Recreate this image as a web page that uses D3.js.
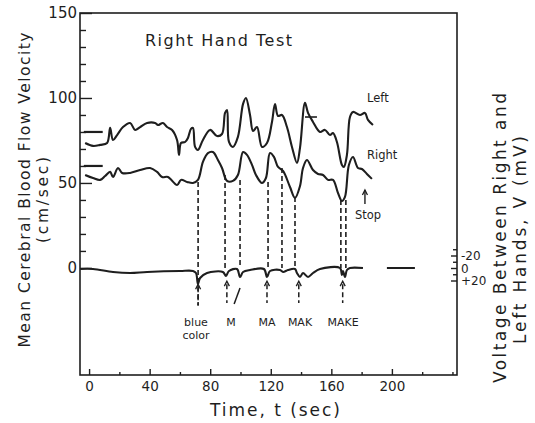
<!DOCTYPE html>
<html><head><meta charset="utf-8">
<script src="https://cdn.jsdelivr.net/npm/d3@7"></script>
<style>
body{margin:0;background:#fff}
svg{display:block}
text{font-family:"DejaVu Sans",sans-serif;fill:#1e1e1e}
</style>
</head><body><svg id="c" width="535" height="423"></svg>
<script>
// ---- data (time in sec, velocity in cm/sec, voltage in mV) ----
const leftTime=[-2.6,2.6,7.3,11.9,13.9,15.8,18.5,22.4,27.1,30.4,33.7,38.3,43.6,45.5,48.8,51.5,54.8,58.1,59.4,60.7,63.4,65.3,67.3,68.6,70.0,71.9,75.2,79.9,84.5,87.8,89.8,91.1,92.4,95.0,98.3,101.7,103.6,106.3,108.3,110.9,114.2,117.5,120.8,122.8,124.8,127.4,130.7,134.0,137.3,139.3,142.6,144.6,147.9,152.5,155.8,159.1,161.1,163.7,167.0,168.3,170.3,172.3,174.3,178.9,182.2,184.2,187.5];
const leftVel=[73.5,71.8,72.4,73.5,82.4,75.3,78.2,82.9,85.3,81.2,82.9,85.3,85.3,84.1,85.3,82.9,81.2,75.3,66.5,73.5,74.1,76.5,81.8,82.4,71.2,69.4,75.3,81.2,77.6,78.8,91.2,92.9,74.1,71.2,77.1,96.5,100,90,80.6,82.9,71.2,73.5,85.9,96.5,89.4,90,82.9,71.2,61.8,70.6,97.1,91.2,85.9,80,81.2,78.2,79.4,74.1,60.6,59.4,66.5,88.8,91.8,90,91.2,87.1,84.1];
const rightTime=[-2.6,2.6,7.3,10.6,13.9,15.8,19.1,21.8,27.1,33.7,40.3,44.9,48.2,52.1,58.1,60.7,64.7,68.6,71.9,75.2,78.5,81.8,85.1,87.8,91.1,95.0,98.3,101.7,104.3,107.6,110.2,114.2,116.8,119.5,122.1,124.8,128.1,132.7,136.0,139.3,141.3,143.9,147.9,151.2,154.5,157.8,161.1,164.4,167.0,169.0,171.6,174.3,177.6,180.2,183.5,186.8];
const rightVel=[54.7,52.9,51.8,54.1,56.5,53.5,58.8,55.9,55.9,57.6,58.8,56.5,53.5,53.5,48.8,51.8,50.6,50,51.8,62.4,67.6,68.2,63.5,58.8,51.2,51.2,54.7,68.2,66.5,60.6,54.7,50,52.9,67.6,65.3,59.4,57.1,47.6,41.2,48.2,58.8,63.5,57.6,55.3,54.7,51.8,51.8,44.1,39.4,41.8,60.6,65.3,58.8,58.2,55.3,52.4];
const voltTime=[-5.9,2.6,15.8,27.1,38.3,60.1,68.6,70.6,71.9,73.3,77.9,88.4,90.4,92.4,97.7,99.7,101.7,106.3,115.5,117.5,119.5,126.1,128.1,131.4,136.0,137.3,139.3,141.3,144.6,147.9,152.5,165.7,167.0,167.7,169.0,170.3,172.3,180.9];
const voltMv=[1.6,1.6,6.4,8,6.4,4.8,4.8,8,25.6,16,8,6.4,12.8,4.8,1.6,14.4,6.4,3.2,1.6,14.4,4.8,3.2,6.4,3.2,1.6,8,14.4,8,14.4,8,1.6,0,11.2,4.8,14.4,3.2,0,0];
const voltTail=[196.7,215.2];
const baselineMarks=[80,60];
const dashTime=[72,89.8,99.7,118.2,127.4,136,166.3,169.6];
const dashTopVel=[50.6,54.7,51.8,50.6,58.8,41.8,40,40];
const eventTime=[72,91,117.5,138.5,167.5];
const eventLabels=[["blue","color"],["M"],["MA"],["MAK"],["MAKE"]];
const xTicks=[0,40,80,120,160,200];
const xMinor=[20,60,100,140,180,220,240];
const yTicks=[0,50,100,150];
const yMinor=[10,20,30,40,60,70,80,90,110,120,130,140];
const vTicks=[-20,0,20];
const vTickLabels=["-20","0","+20"];
const vMinor=[-30,-10,10];

// ---- scales ----
const svg=d3.select("#c");
const x=d3.scaleLinear().domain([-6,243]).range([80,457]);
const y=d3.scaleLinear().domain([-63,150]).range([375,13]);
const vy=d3.scaleLinear().domain([-20,20]).range([255.5,280.5]);
const ink="#1e1e1e";

// frame
svg.append("rect").attr("x",x(-6)).attr("y",y(150)).attr("width",x(243)-x(-6)).attr("height",y(-63)-y(150))
  .attr("fill","none").attr("stroke",ink).attr("stroke-width",1.6);

// bottom axis
const gx=svg.append("g").attr("transform",`translate(0,${y(-63)})`);
gx.call(d3.axisBottom(x).tickValues(xTicks).tickSizeInner(-6).tickSizeOuter(0).tickPadding(6));
const gx2=svg.append("g").attr("transform",`translate(0,${y(-63)})`);
gx2.call(d3.axisBottom(x).tickValues(xMinor).tickSizeInner(-3).tickSizeOuter(0).tickFormat(""));
// left axis
const gy=svg.append("g").attr("transform",`translate(${x(-6)},0)`);
gy.call(d3.axisLeft(y).tickValues(yTicks).tickSizeInner(-12).tickSizeOuter(0).tickPadding(3));
const gy2=svg.append("g").attr("transform",`translate(${x(-6)},0)`);
gy2.call(d3.axisLeft(y).tickValues(yMinor).tickSizeInner(-6).tickSizeOuter(0).tickFormat(""));
// right voltage axis
const gv=svg.append("g").attr("transform",`translate(${x(243)},0)`);
gv.call(d3.axisRight(vy).tickValues(vTicks).tickSizeInner(-6).tickSizeOuter(0).tickPadding(4).tickFormat((d,i)=>vTickLabels[i]));
const gv2=svg.append("g").attr("transform",`translate(${x(243)},0)`);
gv2.call(d3.axisRight(vy).tickValues(vMinor).tickSizeInner(-4).tickSizeOuter(0).tickFormat(""));
svg.selectAll(".domain").remove();
svg.selectAll(".tick line").attr("stroke",ink).attr("stroke-width",1.4);
gx.selectAll("text").attr("font-size",13.5).attr("fill",ink);
gy.selectAll("text").attr("font-size",15).attr("fill",ink);
gv.selectAll("text").attr("font-size",12).attr("fill",ink).attr("dy","0.35em");

// baseline calibration marks
svg.selectAll(".bm").data(baselineMarks).enter().append("line")
  .attr("x1",x(-3.5)).attr("x2",x(9)).attr("y1",d=>y(d)).attr("y2",d=>y(d))
  .attr("stroke",ink).attr("stroke-width",2.2);

// traces
const line=d3.line().curve(d3.curveCatmullRom.alpha(0.5));
svg.append("path").attr("d",line(leftTime.map((t,i)=>[x(t),y(leftVel[i])])))
  .attr("fill","none").attr("stroke",ink).attr("stroke-width",2.1);
svg.append("path").attr("d",line(rightTime.map((t,i)=>[x(t),y(rightVel[i])])))
  .attr("fill","none").attr("stroke",ink).attr("stroke-width",2.1);
svg.append("path").attr("d",line(voltTime.map((t,i)=>[x(t),vy(voltMv[i])])))
  .attr("fill","none").attr("stroke",ink).attr("stroke-width",2.1);
svg.append("line").attr("x1",x(voltTail[0])).attr("x2",x(voltTail[1])).attr("y1",vy(0)).attr("y2",vy(0))
  .attr("stroke",ink).attr("stroke-width",2);
// small mark on left peak
svg.append("line").attr("x1",x(142.6)).attr("x2",x(150.5)).attr("y1",y(88.8)).attr("y2",y(88.8))
  .attr("stroke",ink).attr("stroke-width",1.6);

// dashed event lines
svg.selectAll(".dl").data(dashTime).enter().append("line")
  .attr("x1",d=>x(d)).attr("x2",d=>x(d))
  .attr("y1",(d,i)=>y(dashTopVel[i])).attr("y2",(d,i)=>i===0?vy(60):vy(0))
  .attr("stroke",ink).attr("stroke-width",1.6).attr("stroke-dasharray","5,3");

// event arrows
eventTime.forEach((t,i)=>{
  const top=i===0?vy(26):vy(21), bot=i===0?vy(60):vy(56);
  svg.append("line").attr("x1",x(t)).attr("x2",x(t)).attr("y1",top+3).attr("y2",bot)
    .attr("stroke",ink).attr("stroke-width",1.5).attr("stroke-dasharray","5,3");
  svg.append("path").attr("d",`M${x(t)-2.5},${top+5}L${x(t)},${top}L${x(t)+2.5},${top+5}`)
    .attr("fill","none").attr("stroke",ink).attr("stroke-width",1.3);
  const cx=[196,231,267,300,343][i];
  eventLabels[i].forEach((s,j)=>{
    svg.append("text").attr("x",cx).attr("y",vy(20)+45+j*13).attr("text-anchor","middle")
      .attr("font-size",11).text(s);
  });
});
// slash near M
svg.append("line").attr("x1",x(95.8)).attr("y1",vy(57.6)).attr("x2",x(99.7)).attr("y2",vy(32))
  .attr("stroke",ink).attr("stroke-width",1.5);

// stop arrow
svg.append("line").attr("x1",x(182.2)).attr("x2",x(182.2)).attr("y1",y(45.9)).attr("y2",y(37.6))
  .attr("stroke",ink).attr("stroke-width",1.4);
svg.append("path").attr("d",`M${x(182.2)-2.5},${y(45.9)+5}L${x(182.2)},${y(45.9)}L${x(182.2)+2.5},${y(45.9)+5}`)
  .attr("fill","none").attr("stroke",ink).attr("stroke-width",1.3);

// text labels
svg.append("text").attr("x",218.5).attr("y",46).attr("text-anchor","middle").attr("font-size",16)
  .attr("textLength",147).text("Right Hand Test");
svg.append("text").attr("x",367).attr("y",102).attr("font-size",11.5).text("Left");
svg.append("text").attr("x",367).attr("y",159).attr("font-size",11.5).text("Right");
svg.append("text").attr("x",355).attr("y",219).attr("font-size",11.5).text("Stop");
svg.append("text").attr("x",275).attr("y",416).attr("text-anchor","middle").attr("font-size",17)
  .attr("textLength",130).text("Time, t (sec)");

// y axis titles
svg.append("text").attr("transform","translate(25,190) rotate(-90)").attr("text-anchor","middle")
  .attr("dominant-baseline","central").attr("font-size",15.5).attr("textLength",315).text("Mean Cerebral Blood Flow Velocity");
svg.append("text").attr("transform","translate(43,200) rotate(-90)").attr("text-anchor","middle")
  .attr("dominant-baseline","central").attr("font-size",15.5).attr("textLength",86).text("(cm/sec)");
svg.append("text").attr("transform","translate(500,238) rotate(-90)").attr("text-anchor","middle")
  .attr("dominant-baseline","central").attr("font-size",17).attr("textLength",290).text("Voltage Between Right and");
svg.append("text").attr("transform","translate(520,240) rotate(-90)").attr("text-anchor","middle")
  .attr("dominant-baseline","central").attr("font-size",17).attr("textLength",208).text("Left Hands, V (mV)");
</script>
</body></html>
